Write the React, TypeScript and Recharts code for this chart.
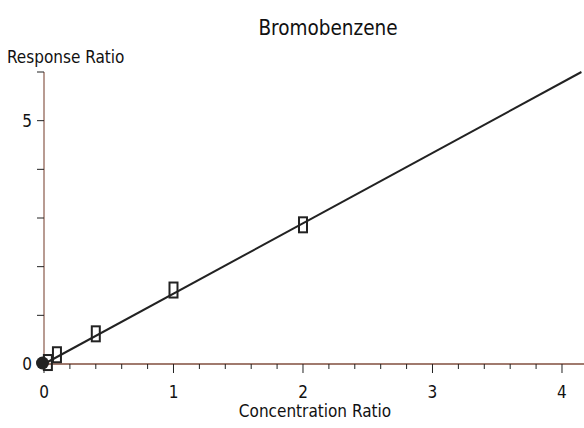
import React from "react";
import { ComposedChart, XAxis, YAxis, Scatter } from "recharts";

const title = "Bromobenzene";
const xTitle = "Concentration Ratio";
const yTitle = "Response Ratio";

const calX = [0.03, 0.1, 0.4, 1.0, 2.0];
const calY = [0.03, 0.19, 0.62, 1.52, 2.86];
const originX = [0];
const originY = [0];
const fitX = [0, 4.15];
const fitY = [0, 6.0];

const xTicks = Array.from({ length: 21 }, (_, i) => Math.round(i * 2) / 10);
const yTicks = [0, 1, 2, 3, 4, 5, 6];
const xLabels = [0, 1, 2, 3, 4];
const yLabels = [0, 5];

const calData = calX.map((x, i) => ({ x, y: calY[i] }));
const originData = originX.map((x, i) => ({ x, y: originY[i] }));
const fitData = fitX.map((x, i) => ({ x, y: fitY[i] }));

const FONT = '"DejaVu Sans Condensed", "Liberation Sans Narrow", "Roboto", sans-serif';
const AXIS = "#a07a6e";
const INK = "#222";

const XTick = (props: any) => {
  const { x, y, payload } = props;
  const v = payload.value;
  const major = xLabels.some((m) => Math.abs(m - v) < 1e-6);
  return (
    <g>
      <line x1={x} x2={x} y1={y} y2={y + (major ? 9 : 5)} stroke={INK} strokeWidth={1} />
      {major && (
        <text x={x} y={y + 34} textAnchor="middle" fontFamily={FONT} fontSize={17} fill="#111">
          {String(v)}
        </text>
      )}
    </g>
  );
};

const YTick = (props: any) => {
  const { x, y, payload } = props;
  const v = payload.value;
  const major = yLabels.includes(v);
  return (
    <g>
      <line x1={x - 7} x2={x} y1={y} y2={y} stroke={INK} strokeWidth={1} />
      {major && (
        <text x={x - 12} y={y + 6} textAnchor="end" fontFamily={FONT} fontSize={17} fill="#111">
          {String(v)}
        </text>
      )}
    </g>
  );
};

const RectShape = (props: any) => {
  const { cx, cy } = props;
  return <rect x={cx - 4} y={cy - 7.5} width={8} height={15} fill="none" stroke={INK} strokeWidth={2} />;
};

const DotShape = (props: any) => {
  const { cx, cy } = props;
  return <circle cx={cx - 1.5} cy={cy - 1} r={6.5} fill={INK} />;
};

const NoShape = () => <g />;

export default function App() {
  return (
    <div style={{ position: "absolute", left: 0, top: 0, width: 584, height: 428, background: "#fff" }}>
      <ComposedChart width={584} height={428} margin={{ top: 72, right: 0, bottom: 0, left: 0 }}>
        <XAxis
          type="number"
          dataKey="x"
          domain={[0, 4.17]}
          ticks={xTicks}
          interval={0}
          tickSize={0}
          tickMargin={0}
          height={64}
          axisLine={{ stroke: AXIS, strokeWidth: 2 }}
          tickLine={false}
          tick={<XTick />}
        />
        <YAxis
          type="number"
          dataKey="y"
          domain={[0, 6]}
          ticks={yTicks}
          interval={0}
          tickSize={0}
          tickMargin={0}
          width={44}
          axisLine={{ stroke: AXIS, strokeWidth: 1.5 }}
          tickLine={false}
          tick={<YTick />}
        />
        <Scatter data={fitData} line={{ stroke: INK, strokeWidth: 2 }} shape={<NoShape />} isAnimationActive={false} />
        <Scatter data={calData} shape={<RectShape />} isAnimationActive={false} />
        <Scatter data={originData} shape={<DotShape />} isAnimationActive={false} />
      </ComposedChart>
      <div style={{ position: "absolute", left: 0, width: 584, top: 0, height: 428, pointerEvents: "none", fontFamily: FONT, color: "#111" }}>
        <div style={{ position: "absolute", left: 228, width: 200, top: 15, textAlign: "center", fontSize: 20.5, lineHeight: "26px" }}>{title}</div>
        <div style={{ position: "absolute", left: 7, top: 47, fontSize: 17, lineHeight: "20px", whiteSpace: "nowrap" }}>{yTitle}</div>
        <div style={{ position: "absolute", left: 215, width: 200, top: 401, textAlign: "center", fontSize: 17, lineHeight: "20px" }}>{xTitle}</div>
      </div>
    </div>
  );
}
